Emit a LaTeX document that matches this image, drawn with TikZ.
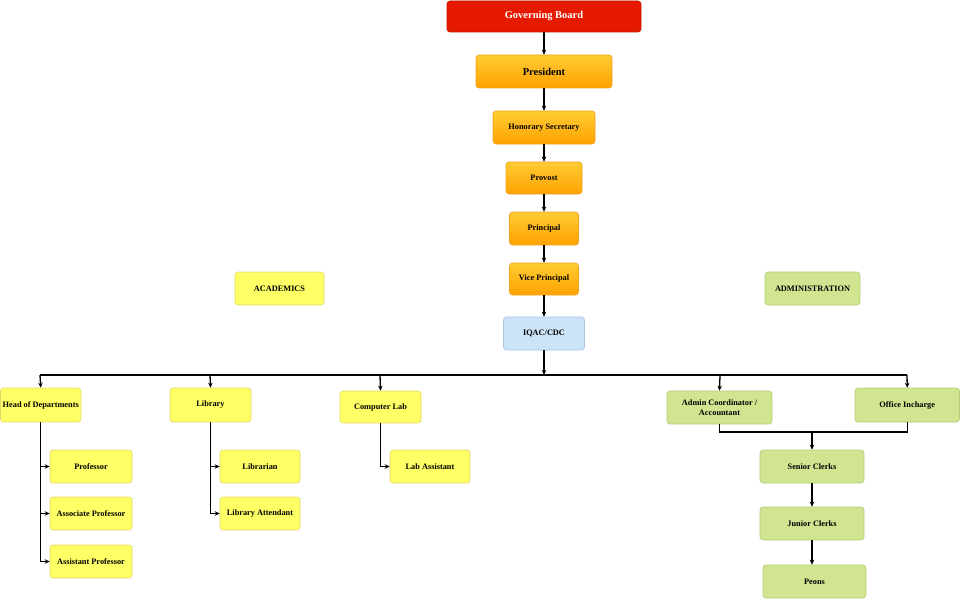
\documentclass[tikz,border=0pt]{standalone}
\usepackage{fontspec}
\setmainfont{Liberation Serif}
\usetikzlibrary{arrows.meta}
\definecolor{gbred}{HTML}{E61A00}
\definecolor{orTop}{HTML}{FFCC33}
\definecolor{orBot}{HTML}{FFA200}
\definecolor{orLine}{HTML}{F0A020}
\definecolor{ylFill}{HTML}{FFFF66}
\definecolor{ylLine}{HTML}{E2D66A}
\definecolor{grFill}{HTML}{D1E591}
\definecolor{grLine}{HTML}{B5CC78}
\definecolor{blFill}{HTML}{CCE4F8}
\definecolor{blLine}{HTML}{A8C4E0}
\tikzset{
  x=1pt,y=-1pt,
  bx/.style={rounded corners=3pt,align=center,inner sep=0pt,font=\fontsize{8.3}{9.4}\selectfont\bfseries,line width=0.6pt},
  redbox/.style={bx,fill=gbred,draw=gbred!85!black,text=white,font=\fontsize{10.5}{12}\selectfont\bfseries},
  orbox/.style={bx,top color=orTop,bottom color=orBot,draw=orLine},
  ylbox/.style={bx,fill=ylFill,draw=ylLine},
  grbox/.style={bx,fill=grFill,draw=grLine},
  blbox/.style={bx,fill=blFill,draw=blLine},
  conn/.style={line width=1.3pt,-{Stealth[length=5pt,width=4.5pt]}},
  line/.style={line width=1.3pt},
}
\newcommand{\bxat}[6]{\node[#1,minimum width={#4-#2},minimum height={#5-#3}] (#6) at ({(#2+#4)/2},{(#3+#5)/2})}
\begin{document}
\begin{tikzpicture}
\useasboundingbox (0,0) rectangle (960,599);
\bxat{redbox}{447}{1}{641}{32}{gb} {Governing Board};
\bxat{orbox,font=\fontsize{10.5}{12}\selectfont\bfseries}{476}{55}{612}{88}{pres} {President};
\bxat{orbox}{493}{111}{595}{144}{hs} {Honorary Secretary};
\bxat{orbox}{506}{162}{582}{194}{prov} {Provost};
\bxat{orbox}{509.5}{212}{578.5}{245}{prin} {Principal};
\bxat{orbox}{509.5}{263}{578.5}{295}{vp} {Vice Principal};
\bxat{blbox}{503.5}{317}{584.5}{350}{iqac} {IQAC/CDC};
\bxat{ylbox}{235}{272}{324}{305}{acad} {ACADEMICS};
\bxat{grbox}{765}{272}{860}{305}{admin} {ADMINISTRATION};
\bxat{ylbox}{0.5}{388}{81}{422}{hod} {Head of Departments};
\bxat{ylbox}{170}{388}{251}{422}{lib} {Library};
\bxat{ylbox}{340}{391}{421}{423}{cl} {Computer Lab};
\bxat{grbox}{667}{391}{772}{424}{ac} {Admin Coordinator /\\Accountant};
\bxat{grbox}{855}{388}{959.5}{422}{oi} {Office Incharge};
\bxat{ylbox}{50}{450}{132}{483}{prof} {Professor};
\bxat{ylbox}{50}{497}{132}{530}{asp} {Associate Professor};
\bxat{ylbox}{50}{545}{132}{578}{ast} {Assistant Professor};
\bxat{ylbox}{220}{450}{300}{483}{lbn} {Librarian};
\bxat{ylbox}{220}{497}{300}{530}{lat} {Library Attendant};
\bxat{ylbox}{390}{450}{470}{483}{las} {Lab Assistant};
\bxat{grbox}{760}{450}{864}{483}{sc} {Senior Clerks};
\bxat{grbox}{760}{507}{864}{540}{jc} {Junior Clerks};
\bxat{grbox}{763}{565}{866}{598}{pe} {Peons};
% vertical chain
\draw[conn] (gb) -- (pres);
\draw[conn] (pres) -- (hs);
\draw[conn] (hs) -- (prov);
\draw[conn] (prov) -- (prin);
\draw[conn] (prin) -- (vp);
\draw[conn] (vp) -- (iqac);
% bus
\coordinate (busc) at (544,375);
\coordinate (busl) at (40,375);
\coordinate (busr) at (907,375);
\draw[conn] (iqac.south) -- (busc);
\draw[line] (busl) -- (busr);
\draw[conn] (busl) -- (hod.north);
\draw[conn] (210,375) -- (lib.north);
\draw[conn] (380,375) -- (cl.north);
\draw[conn] (720,375) -- (ac.north);
\draw[conn] (busr) -- (oi.north);
% sub-branches
\draw[conn] (hod.south) |- (prof.west);
\draw[conn] (hod.south) |- (asp.west);
\draw[conn] (hod.south) |- (ast.west);
\draw[conn] (lib.south) |- (lbn.west);
\draw[conn] (lib.south) |- (lat.west);
\draw[conn] (cl.south) |- (las.west);
% admin merge
\coordinate (mrg) at (812,432);
\draw[line] (ac.south) |- (mrg) -| (oi.south);
\draw[conn] (mrg) -- (sc.north);
\draw[conn] (sc) -- (jc);
\draw[conn] (jc.south) -- (jc.south |- pe.north);
\end{tikzpicture}
\end{document}
